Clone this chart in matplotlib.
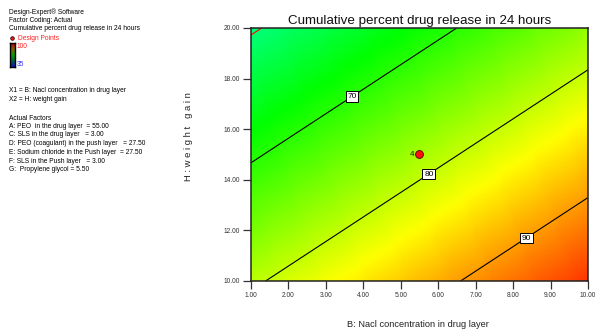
import matplotlib.pyplot as plt
import numpy as np
from matplotlib.colors import LinearSegmentedColormap
from matplotlib.lines import Line2D

plt.rcParams['font.family'] = ['Liberation Sans', 'DejaVu Sans']

# Factor ranges
x1_range = [1.0, 10.0]      # B: Nacl concentration in drug layer
x2_range = [10.0, 20.0]     # H: weight gain

# Linear model for cumulative release: R = b0 + b1*X1 + b2*X2
model_coef = [97.13, 1.92, -1.98]

# Contour levels shown (60 drawn in red without a label)
levels = [60, 70, 80, 90]
label_levels = [70, 80, 90]
label_x1 = [3.7, 5.75, 8.35]

# Design point (replicated 4 times)
design_x1 = [5.5]
design_x2 = [15.0]
design_reps = ["4"]

# Color scale limits
c_min, c_max = 35, 100

xticks = [1, 2, 3, 4, 5, 6, 7, 8, 9, 10]
yticks = [10, 12, 14, 16, 18, 20]

cmap = LinearSegmentedColormap.from_list(
    "de", ["#0000ff", "#00ffff", "#00ff00", "#ffff00", "#ff0000"])
bar_cmap = LinearSegmentedColormap.from_list(
    "bar", ["#1010c0", "#006040", "#00a000", "#806000", "#c00000"])

fig = plt.figure(figsize=(5.95, 3.36), dpi=100)
ax = fig.add_axes([0.4218, 0.1637, 0.5664, 0.753])

gx = np.linspace(x1_range[0], x1_range[1], 61)
gy = np.linspace(x2_range[0], x2_range[1], 41)
X, Y = np.meshgrid(gx, gy)
R = model_coef[0] + model_coef[1] * X + model_coef[2] * Y

ax.pcolormesh(X, Y, R, cmap=cmap, vmin=c_min, vmax=c_max, shading='gouraud')
ax.contour(X, Y, R, levels=levels, colors=['red', 'black', 'black', 'black'],
           linewidths=0.8)

# contour labels sit on their lines, upright in small boxes
for lev, lx in zip(label_levels, label_x1):
    ly = (lev - model_coef[0] - model_coef[1] * lx) / model_coef[2]
    ax.text(lx, ly, f"{lev}", fontsize=6, ha='center', va='center', zorder=6,
            bbox=dict(facecolor='white', edgecolor='black', linewidth=0.7,
                      pad=1.2))

ax.scatter(design_x1, design_x2, s=32, color='#ff1010', edgecolors='#500000',
           linewidths=0.6, zorder=5)
for x, y, t in zip(design_x1, design_x2, design_reps):
    ax.text(x - 0.14, y, t, fontsize=5.8, ha='right', va='center', color='#202020')

ax.set_xlim(x1_range)
ax.set_ylim(x2_range)
ax.set_xticks(xticks)
ax.set_yticks(yticks)
ax.set_xticklabels([f"{v:.2f}" for v in xticks])
ax.set_yticklabels([f"{v:.2f}" for v in yticks])
ax.tick_params(direction='out', length=6, width=0.9, color='#333333',
               labelsize=4.8, labelcolor='#333333', pad=2)
for s in ax.spines.values():
    s.set_linewidth(1.1)
    s.set_color('#222222')

ax.set_title("Cumulative percent drug release in 24 hours", fontsize=9.6,
             pad=3, color='#111111')
fig.text(0.702, 0.02, "B: Nacl concentration in drug layer", fontsize=6.7,
         ha='center', va='bottom', color='#222222')
fig.text(0.316, 0.595, "H : w e i g h t   g a i n", fontsize=6.8, rotation=90,
         ha='center', va='center', color='#222222')

# Legend and factor text block
fs = 4.8
tx = 9 / 595


def fy(py):
    return 1 - py / 336


fig.text(tx, fy(11.7), "Design-Expert® Software", fontsize=fs, va='center')
fig.text(tx, fy(20.3), "Factor Coding: Actual", fontsize=fs, va='center')
fig.text(tx, fy(29), "Cumulative percent drug release in 24 hours", fontsize=fs,
         va='center')
fig.text(17.5 / 595, fy(38.3), "Design Points", fontsize=fs, va='center',
         color='#ff2020')
fig.add_artist(Line2D([12 / 595], [fy(37.8)], marker='o', markersize=2.6,
                      markerfacecolor='#ff1010', markeredgecolor='black',
                      markeredgewidth=0.5, linestyle='none',
                      transform=fig.transFigure))

cax = fig.add_axes([10 / 595, fy(67), 5 / 595, 24 / 336])
cax.imshow(np.linspace(1, 0, 50)[:, None], aspect='auto', cmap=bar_cmap,
           extent=[0, 1, 0, 1])
cax.set_xticks([])
cax.set_yticks([])
for s in cax.spines.values():
    s.set_linewidth(1.0)
fig.text(17 / 595, fy(47), "100", fontsize=fs, va='center', color='#ff2020')
fig.text(17 / 595, fy(64.3), "35", fontsize=fs, va='center', color='#3030ff')

lines = [
    (90.7, "X1 = B: Nacl concentration in drug layer"),
    (99.3, "X2 = H: weight gain"),
    (118, "Actual Factors"),
    (126.3, "A: PEO  in the drug layer  = 55.00"),
    (135, "C: SLS in the drug layer   = 3.00"),
    (143.7, "D: PEO (coagulant) in the push layer   = 27.50"),
    (152.3, "E: Sodium chloride in the Push layer  = 27.50"),
    (161, "F: SLS in the Push layer   = 3.00"),
    (169.7, "G:  Propylene glycol = 5.50"),
]
for py, s in lines:
    fig.text(tx, fy(py), s, fontsize=fs, va='center')

fig.savefig("out.png", dpi=100)
